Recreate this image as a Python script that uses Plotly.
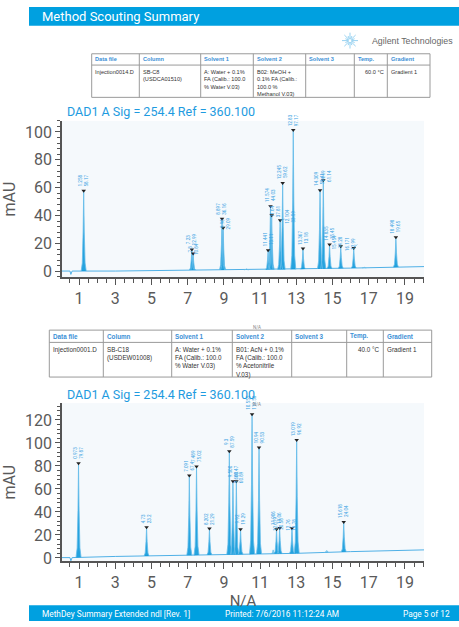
import plotly.graph_objects as go
import numpy as np

# ---------------- data ----------------
# Chromatogram 1 (Injection0014.D)
c1_rt = [1.258, 7.23, 7.3, 8.897, 8.96, 11.441, 11.574, 11.64, 12.104, 12.245,
         12.83, 13.367, 14.309, 14.49, 14.835, 15.454, 16.171, 18.498]
c1_height = [57.8, 15.6, 12.8, 37.7, 31.3, 15.1, 46.7, 40.3, 36.7, 63.3,
             101.4, 16.3, 58.1, 65.4, 19.2, 18.0, 16.8, 24.4]
c1_label_rt = ["1.258", "7.23", "7.3", "8.897", "8.96", "11.441", "11.574", "11.64",
               "12.104", "12.245", "12.83", "13.367", "14.309", "14.49", "14.835",
               "15.454", "16.171", "18.498"]
c1_label_h = ["58.17", "12.99", "10.84", "36.16", "29.09", "13.11", "44.03", "37.81",
              "33.59", "59.62", "97.17", "13.18", "55.41", "61.14", "15.45", "14.28",
              "12.99", "19.65"]
c1_small_rt = [10.25, 16.75]
c1_small_h = [1.8, 3.2]
c1_base_x = [0.06, 0.5, 0.55, 0.62, 3, 7, 10, 13, 16, 20.05]
c1_base_y = [0.2, 0.2, -2.2, 0.2, 0.2, 0.9, 1.0, 1.5, 2.3, 3.4]

# Chromatogram 2 (Injection0001.D)
c2_rt = [0.973, 4.73, 7.091, 7.489, 8.202, 9.3, 9.5, 9.688, 9.92, 10.555, 10.94,
         11.906, 12.079, 12.76, 13.019, 15.618]
c2_height = [82.3, 26.7, 71.7, 79.5, 25.5, 92.7, 66.6, 66.6, 25.0, 124.9, 96.1,
             25.0, 26.1, 25.8, 102.5, 31.3]
c2_label_rt = ["0.973", "4.73", "7.091", "7.489", "8.202", "9.3", "9.500", "9.688",
               "9.92", "10.555", "10.94", "11.906", "12.079", "12.76", "13.019", "15.618"]
c2_label_h = ["79.87", "23.2", "67.4", "75.02", "21.29", "87.59", "60.47", "60.89",
              "19.29", "119.58", "90.53", "19.06", "20.58", "19.78", "96.92", "24.04"]
c2_small_rt = [11.72, 14.68]
c2_small_h = [7.0, 6.5]
c2_base_x = [0.06, 0.5, 0.55, 0.62, 3, 8, 13, 16, 20.05]
c2_base_y = [0.3, 0.3, -2.5, 0.3, 1.3, 2.6, 4.0, 5.5, 7.0]

x_tick_vals = [1, 3, 5, 7, 9, 11, 13, 15, 17, 19]
y1_tick_vals = [0, 20, 40, 60, 80, 100]
y2_tick_vals = [0, 20, 40, 60, 80, 100, 120]

table_headers = ["Data file", "Column", "Solvent 1", "Solvent 2", "Solvent 3", "Temp.", "Gradient"]
table1_cells = ["Injection0014.D", "SB-C8<br>(USDCA01510)",
                "A: Water + 0.1%<br>FA (Calib.: 100.0<br>% Water V.03)",
                "B02: MeOH +<br>0.1% FA (Calib.:<br>100.0 %<br>Methanol V.03)",
                "", "60.0 °C", "Gradient 1"]
table2_cells = ["Injection0001.D", "SB-C18<br>(USDEW01008)",
                "A: Water + 0.1%<br>FA (Calib.: 100.0<br>% Water V.03)",
                "B01: AcN + 0.1%<br>FA (Calib.: 100.0<br>% Acetonitrile<br>V.03)",
                "", "40.0 °C", "Gradient 1"]

# ---------------- styling ----------------
W, H = 459, 627
BLUE = "#00a0e0"
LBL = "#3aa3e3"
AX = "#555555"
TXT = "#5a5a5a"


def px(x):
    return x / W


def py(y):
    return 1 - y / H


PEAK_OFF = [-1, -0.55, -0.22, 0, 0.22, 0.55, 1]
PEAK_FRAC = [0, 0.1, 0.5, 1, 0.5, 0.1, 0]


def peak_polys(rts, hs, bx, by, hw):
    xs, ys = [], []
    for rt, h in zip(rts, hs):
        for o, f in zip(PEAK_OFF, PEAK_FRAC):
            x = rt + o * hw
            b = float(np.interp(x, bx, by))
            xs.append(x)
            ys.append(b + f * (h - b))
        xs.append(None)
        ys.append(None)
    return xs, ys


fig = go.Figure()


def add_chrom(rts, hs, srt, sh, bx, by, xa, ya):
    fig.add_trace(go.Scatter(x=bx, y=by, mode="lines", line=dict(color="#4fb0e6", width=1),
                             xaxis=xa, yaxis=ya, hoverinfo="skip", showlegend=False))
    xs, ys = peak_polys(srt, sh, bx, by, 0.12)
    fig.add_trace(go.Scatter(x=xs, y=ys, mode="lines", fill="toself",
                             fillcolor="rgba(60,170,225,0.6)", line=dict(color="#6cc0ea", width=0.8),
                             xaxis=xa, yaxis=ya, hoverinfo="skip", showlegend=False))
    xs, ys = peak_polys(rts, hs, bx, by, 0.14)
    fig.add_trace(go.Scatter(x=xs, y=ys, mode="lines", fill="toself",
                             fillcolor="rgba(8,150,218,0.88)", line=dict(color="#66bdea", width=0.8),
                             xaxis=xa, yaxis=ya, hoverinfo="skip", showlegend=False))
    fig.add_trace(go.Scatter(x=rts, y=hs, mode="markers",
                             marker=dict(symbol="triangle-down", size=4, color="#222"),
                             xaxis=xa, yaxis=ya, hoverinfo="skip", showlegend=False))


add_chrom(c1_rt, c1_height, c1_small_rt, c1_small_h, c1_base_x, c1_base_y, "x", "y")
add_chrom(c2_rt, c2_height, c2_small_rt, c2_small_h, c2_base_x, c2_base_y, "x2", "y2")

# label offsets (pixels to the right) for crowded peaks
c1_dx = {2: 7, 4: 9, 7: 10, 8: 17, 13: 9, 15: 3, 16: 4}
c2_dx = {7: 9, 12: 6, 13: 6}

annotations = []


def add_labels(rts, hs, lrt, lh, dxmap, xr, yr):
    for i, (rt, h) in enumerate(zip(rts, hs)):
        txt = f"{lrt[i]}<br>{lh[i]}"
        dx = dxmap.get(i, 0)
        if dx == 0:
            annotations.append(dict(x=rt, y=h, xref=xr, yref=yr, text=txt, textangle=-90,
                                    showarrow=False, xanchor="center", yanchor="bottom",
                                    yshift=3, font=dict(size=4.6, color=LBL, family="Roboto"),
                                    borderpad=0))
        else:
            annotations.append(dict(x=rt, y=h, xref=xr, yref=yr, text=txt, textangle=-90,
                                    showarrow=True, arrowhead=0, arrowwidth=0.6, arrowcolor=LBL,
                                    ax=dx, ay=-4, xanchor="center", yanchor="bottom",
                                    font=dict(size=4.6, color=LBL, family="Roboto"),
                                    borderpad=0))


add_labels(c1_rt, c1_height, c1_label_rt, c1_label_h, c1_dx, "x", "y")
add_labels(c2_rt, c2_height, c2_label_rt, c2_label_h, c2_dx, "x2", "y2")

shapes = []

# header bar
shapes.append(dict(type="rect", xref="paper", yref="paper", x0=px(29), x1=1, y0=py(26), y1=py(7),
                   fillcolor=BLUE, line=dict(width=0), layer="below"))
annotations.append(dict(x=px(40), y=py(16.5), xref="paper", yref="paper", text="Method Scouting Summary",
                        showarrow=False, xanchor="left", yanchor="middle",
                        font=dict(size=13, color="white", family="Roboto")))
# footer bar
shapes.append(dict(type="rect", xref="paper", yref="paper", x0=px(29), x1=1, y0=0, y1=py(611),
                   fillcolor=BLUE, line=dict(width=0), layer="below"))
for txt, xx, anc in [("MethDey Summary Extended ndl [Rev. 1]", 40, "left"),
                     ("Printed: 7/6/2016 11:12:24 AM", 223, "left"),
                     ("Page 5 of 12", 452, "right")]:
    annotations.append(dict(x=px(xx), y=py(619.5), xref="paper", yref="paper", text=txt,
                            showarrow=False, xanchor=anc, yanchor="middle",
                            font=dict(size=8.3, color="white", family="Roboto")))

# Agilent logo
cx, cy = 350, 41
for k in range(16):
    ang = np.pi * k / 8
    r = 8 if k % 2 == 0 else 5
    shapes.append(dict(type="line", xref="paper", yref="paper",
                       x0=px(cx + 1.5 * np.cos(ang)), y0=py(cy + 1.5 * np.sin(ang)),
                       x1=px(cx + r * np.cos(ang)), y1=py(cy + r * np.sin(ang)),
                       line=dict(color="#8ccdef", width=0.9)))
annotations.append(dict(x=px(370), y=py(41), xref="paper", yref="paper", text="Agilent Technologies",
                        showarrow=False, xanchor="left", yanchor="middle",
                        font=dict(size=8.8, color="#666", family="Liberation Sans, Arial")))


def add_table(edges, ytop, yhead, ybot, cells, fs):
    shapes.append(dict(type="rect", xref="paper", yref="paper", x0=px(edges[0]), x1=px(edges[-1]),
                       y0=py(ybot), y1=py(ytop), line=dict(color="#9a9a9a", width=1)))
    shapes.append(dict(type="line", xref="paper", yref="paper", x0=px(edges[0]), x1=px(edges[-1]),
                       y0=py(yhead), y1=py(yhead), line=dict(color="#9a9a9a", width=1)))
    for e in edges[1:-1]:
        shapes.append(dict(type="line", xref="paper", yref="paper", x0=px(e), x1=px(e),
                           y0=py(ybot), y1=py(ytop), line=dict(color="#9a9a9a", width=1)))
    for i, hd in enumerate(table_headers):
        annotations.append(dict(x=px(edges[i] + 1.5), y=py((ytop + yhead) / 2), xref="paper", yref="paper",
                                text=f"<b>{hd}</b>", showarrow=False, xanchor="left", yanchor="middle",
                                font=dict(size=fs, color="#3b8fd6", family="Liberation Sans, Arial")))
    for i, c in enumerate(cells):
        if not c:
            continue
        if "°C" in c:
            xx, anc = edges[i + 1] - 1.5, "right"
        else:
            xx, anc = edges[i] + 1.5, "left"
        annotations.append(dict(x=px(xx), y=py(yhead + 1.5), xref="paper", yref="paper",
                                text=c, showarrow=False, xanchor=anc, yanchor="top", align="left",
                                font=dict(size=fs, color="#333", family="Liberation Sans, Arial")))


add_table([91.7, 139.3, 200.7, 253.3, 305.7, 354.3, 387.3, 430], 54.3, 65.7, 98.3, table1_cells, 5.6)
add_table([49.3, 103.3, 171.7, 232.3, 291.7, 346.7, 383.3, 431.7], 333.3, 345.7, 380.7, table2_cells, 6.3)

# chart titles
for yy in [113, 398]:
    annotations.append(dict(x=px(65), y=py(yy), xref="paper", yref="paper",
                            text="DAD1 A Sig = 254.4 Ref = 360.100", showarrow=False,
                            xanchor="left", yanchor="middle",
                            font=dict(size=12.5, color="#1e9be0", family="Roboto")))
for yy in [331, 408]:
    annotations.append(dict(x=px(257), y=py(yy), xref="paper", yref="paper", text="N/A",
                            showarrow=False, xanchor="center", yanchor="middle",
                            font=dict(size=4.5, color="#888", family="Roboto")))

xcommon = dict(range=[0.06, 20.05], showline=True, linecolor=AX, linewidth=1.5, ticks="outside",
               tickvals=x_tick_vals, ticklen=6, tickcolor=AX, tickwidth=1,
               tickfont=dict(size=16, color=TXT, family="Roboto"),
               minor=dict(dtick=0.5, tick0=0, ticklen=4, tickcolor=AX, ticks="outside"),
               showgrid=False, zeroline=False)
ycommon = dict(showline=True, linecolor=AX, linewidth=1.5, ticks="outside", ticklen=5, tickcolor=AX,
               tickfont=dict(size=16, color=TXT, family="Roboto"),
               minor=dict(dtick=4, ticklen=3, tickcolor=AX, ticks="outside"),
               showgrid=False, zeroline=False,
               title=dict(text="mAU", font=dict(size=16, color=TXT, family="Roboto"), standoff=6))

fig.update_layout(
    width=W, height=H, margin=dict(l=0, r=0, t=0, b=0),
    paper_bgcolor="white", plot_bgcolor="#f5f9fc", showlegend=False,
    xaxis=dict(domain=[px(62), px(424)], anchor="y", **xcommon),
    yaxis=dict(domain=[py(280), py(122)], anchor="x", range=[-4.3, 108], tickvals=y1_tick_vals, **ycommon),
    xaxis2=dict(domain=[px(62), px(424)], anchor="y2",
                title=dict(text="N/A", font=dict(size=15, color=TXT, family="Roboto"), standoff=2),
                **xcommon),
    yaxis2=dict(domain=[py(566.7), py(407)], anchor="x2", range=[-2.9, 134.6], tickvals=y2_tick_vals,
                **ycommon),
    shapes=shapes, annotations=annotations,
)

fig.write_html("out.html")
